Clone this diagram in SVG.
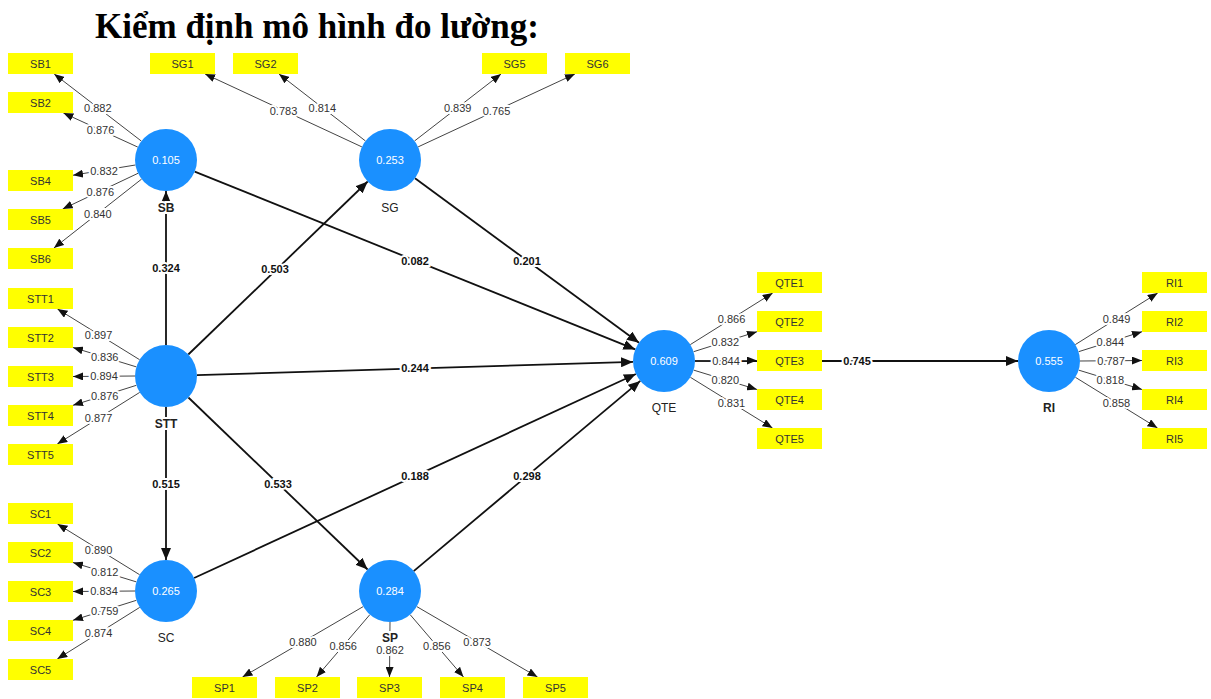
<svg xmlns="http://www.w3.org/2000/svg" width="1211" height="699" viewBox="0 0 1211 699">
  <style>
    .title { font-family: "Liberation Serif", "Times New Roman", serif; font-size: 35px; font-weight: bold; fill: #000; }
    .lv circle { fill: #1a90ff; }
    .lv .val { font-family: "Liberation Sans", Arial, sans-serif; font-size: 11px; fill: #fff; text-anchor: middle; }
    .lv .name { font-family: "Liberation Sans", Arial, sans-serif; font-size: 12px; fill: #222; text-anchor: middle; stroke: #fff; stroke-width: 4px; paint-order: stroke; }
    .lv .bold { font-weight: bold; }
    .ind rect { fill: #ffff00; }
    .ind text { font-family: "Liberation Sans", Arial, sans-serif; font-size: 11px; fill: #333; text-anchor: middle; }
    .load line { stroke: #444; stroke-width: 1; marker-end: url(#ahs); }
    .path line { stroke: #111; stroke-width: 1.8; marker-end: url(#ahl); }
    .load text, .path text { font-family: "Liberation Sans", Arial, sans-serif; font-size: 11px; text-anchor: middle; stroke: #fff; stroke-width: 4px; paint-order: stroke; }
    .load text { fill: #333; }
    .path text { fill: #111; font-weight: bold; }
  </style>
  <defs>
    <marker id="ahs" viewBox="0 0 10 10" refX="10" refY="5" markerWidth="10" markerHeight="8" markerUnits="userSpaceOnUse" orient="auto" preserveAspectRatio="none">
      <path d="M0,0 L10,5 L0,10 z" fill="#111"/>
    </marker>
    <marker id="ahl" viewBox="0 0 10 10" refX="10" refY="5" markerWidth="12" markerHeight="10" markerUnits="userSpaceOnUse" orient="auto" preserveAspectRatio="none">
      <path d="M0,0 L10,5 L0,10 z" fill="#111"/>
    </marker>
  </defs>

  <rect width="1211" height="699" fill="#fff"/>
  <text class="title" x="95" y="38">Kiểm định mô hình đo lường:</text>

  <!-- connectors: structural paths and outer loadings -->
  <g id="connectors">
    <g class="path">
      <line x1="166" y1="345" x2="166" y2="191"/>
      <line x1="188.3" y1="354.5" x2="367.7" y2="181.5"/>
      <line x1="194.7" y1="171.6" x2="635.3" y2="349.4"/>
      <line x1="415" y1="178.3" x2="639" y2="342.7"/>
      <line x1="197" y1="375.1" x2="633" y2="361.9"/>
      <line x1="166" y1="407" x2="166" y2="560"/>
      <line x1="188.4" y1="397.5" x2="367.6" y2="569.5"/>
      <line x1="194.1" y1="578" x2="635.9" y2="374"/>
      <line x1="413.7" y1="571.1" x2="640.3" y2="380.9"/>
      <line x1="695" y1="361" x2="1018" y2="361"/>
    </g>
    <g class="load">
      <!-- SB -->
      <line x1="141.4" y1="141.1" x2="54.2" y2="74"/>
      <line x1="137.8" y1="147.1" x2="63.4" y2="113"/>
      <line x1="135.4" y1="165" x2="73" y2="175.2"/>
      <line x1="138" y1="173.3" x2="62.7" y2="209"/>
      <line x1="141.6" y1="179.1" x2="53.9" y2="248"/>
      <!-- SG -->
      <line x1="361.9" y1="146.9" x2="205.1" y2="74"/>
      <line x1="365.5" y1="141" x2="279" y2="74"/>
      <line x1="414.5" y1="141" x2="501" y2="74"/>
      <line x1="418.1" y1="146.9" x2="574.9" y2="74"/>
      <!-- STT -->
      <line x1="139.6" y1="359.7" x2="57.5" y2="309"/>
      <line x1="136.4" y1="366.9" x2="73" y2="347.5"/>
      <line x1="135" y1="376" x2="73" y2="376.5"/>
      <line x1="136.4" y1="385.3" x2="73" y2="405.3"/>
      <line x1="139.7" y1="392.4" x2="57.3" y2="444"/>
      <!-- SC -->
      <line x1="139.6" y1="574.7" x2="57.5" y2="524"/>
      <line x1="136.4" y1="581.9" x2="73" y2="562.5"/>
      <line x1="135" y1="591" x2="73" y2="591.5"/>
      <line x1="136.4" y1="600.3" x2="73" y2="620.3"/>
      <line x1="139.7" y1="607.4" x2="57.3" y2="659"/>
      <!-- SP -->
      <line x1="363.2" y1="606.6" x2="242.5" y2="677"/>
      <line x1="369.9" y1="614.6" x2="316.5" y2="677"/>
      <line x1="390" y1="622" x2="389.5" y2="677"/>
      <line x1="410.1" y1="614.6" x2="463.5" y2="677"/>
      <line x1="416.8" y1="606.6" x2="537.5" y2="677"/>
      <!-- QTE -->
      <line x1="690.3" y1="344.6" x2="772.7" y2="293"/>
      <line x1="693.6" y1="351.7" x2="757" y2="331.7"/>
      <line x1="695" y1="361" x2="757" y2="360.5"/>
      <line x1="693.6" y1="370.1" x2="757" y2="389.5"/>
      <line x1="690.4" y1="377.3" x2="772.5" y2="428"/>
      <!-- RI -->
      <line x1="1075.3" y1="344.6" x2="1157.7" y2="293"/>
      <line x1="1078.6" y1="351.7" x2="1142" y2="331.7"/>
      <line x1="1080" y1="361" x2="1142" y2="360.5"/>
      <line x1="1078.6" y1="370.1" x2="1142" y2="389.5"/>
      <line x1="1075.4" y1="377.3" x2="1157.5" y2="428"/>
    </g>
  </g>

  <!-- indicators -->
  <g id="indicators" class="ind">
    <g id="SB1"><rect x="8" y="53" width="65" height="21"/><text x="40.5" y="67.5">SB1</text></g>
    <g id="SB2"><rect x="8" y="92" width="65" height="21"/><text x="40.5" y="106.5">SB2</text></g>
    <g id="SB4"><rect x="8" y="170" width="65" height="21"/><text x="40.5" y="184.5">SB4</text></g>
    <g id="SB5"><rect x="8" y="209" width="65" height="21"/><text x="40.5" y="223.5">SB5</text></g>
    <g id="SB6"><rect x="8" y="248" width="65" height="21"/><text x="40.5" y="262.5">SB6</text></g>

    <g id="SG1"><rect x="150" y="53" width="65" height="21"/><text x="182.5" y="67.5">SG1</text></g>
    <g id="SG2"><rect x="233" y="53" width="65" height="21"/><text x="265.5" y="67.5">SG2</text></g>
    <g id="SG5"><rect x="482" y="53" width="65" height="21"/><text x="514.5" y="67.5">SG5</text></g>
    <g id="SG6"><rect x="565" y="53" width="65" height="21"/><text x="597.5" y="67.5">SG6</text></g>

    <g id="STT1"><rect x="8" y="288" width="65" height="21"/><text x="40.5" y="302.5">STT1</text></g>
    <g id="STT2"><rect x="8" y="327" width="65" height="21"/><text x="40.5" y="341.5">STT2</text></g>
    <g id="STT3"><rect x="8" y="366" width="65" height="21"/><text x="40.5" y="380.5">STT3</text></g>
    <g id="STT4"><rect x="8" y="405" width="65" height="21"/><text x="40.5" y="419.5">STT4</text></g>
    <g id="STT5"><rect x="8" y="444" width="65" height="21"/><text x="40.5" y="458.5">STT5</text></g>

    <g id="SC1"><rect x="8" y="503" width="65" height="21"/><text x="40.5" y="517.5">SC1</text></g>
    <g id="SC2"><rect x="8" y="542" width="65" height="21"/><text x="40.5" y="556.5">SC2</text></g>
    <g id="SC3"><rect x="8" y="581" width="65" height="21"/><text x="40.5" y="595.5">SC3</text></g>
    <g id="SC4"><rect x="8" y="620" width="65" height="21"/><text x="40.5" y="634.5">SC4</text></g>
    <g id="SC5"><rect x="8" y="659" width="65" height="21"/><text x="40.5" y="673.5">SC5</text></g>

    <g id="SP1"><rect x="192" y="677" width="65" height="21"/><text x="224.5" y="691.5">SP1</text></g>
    <g id="SP2"><rect x="275" y="677" width="65" height="21"/><text x="307.5" y="691.5">SP2</text></g>
    <g id="SP3"><rect x="357" y="677" width="65" height="21"/><text x="389.5" y="691.5">SP3</text></g>
    <g id="SP4"><rect x="440" y="677" width="65" height="21"/><text x="472.5" y="691.5">SP4</text></g>
    <g id="SP5"><rect x="523" y="677" width="65" height="21"/><text x="555.5" y="691.5">SP5</text></g>

    <g id="QTE1"><rect x="757" y="272" width="65" height="21"/><text x="789.5" y="286.5">QTE1</text></g>
    <g id="QTE2"><rect x="757" y="311" width="65" height="21"/><text x="789.5" y="325.5">QTE2</text></g>
    <g id="QTE3"><rect x="757" y="350" width="65" height="21"/><text x="789.5" y="364.5">QTE3</text></g>
    <g id="QTE4"><rect x="757" y="389" width="65" height="21"/><text x="789.5" y="403.5">QTE4</text></g>
    <g id="QTE5"><rect x="757" y="428" width="65" height="21"/><text x="789.5" y="442.5">QTE5</text></g>

    <g id="RI1"><rect x="1142" y="272" width="65" height="21"/><text x="1174.5" y="286.5">RI1</text></g>
    <g id="RI2"><rect x="1142" y="311" width="65" height="21"/><text x="1174.5" y="325.5">RI2</text></g>
    <g id="RI3"><rect x="1142" y="350" width="65" height="21"/><text x="1174.5" y="364.5">RI3</text></g>
    <g id="RI4"><rect x="1142" y="389" width="65" height="21"/><text x="1174.5" y="403.5">RI4</text></g>
    <g id="RI5"><rect x="1142" y="428" width="65" height="21"/><text x="1174.5" y="442.5">RI5</text></g>
  </g>

  <!-- connector labels -->
  <g id="connector-labels">
    <g class="path">
      <text x="166" y="272">0.324</text>
      <text x="275" y="273">0.503</text>
      <text x="415" y="265">0.082</text>
      <text x="527" y="265">0.201</text>
      <text x="415" y="372">0.244</text>
      <text x="166" y="488">0.515</text>
      <text x="278" y="488">0.533</text>
      <text x="415" y="480">0.188</text>
      <text x="527" y="480">0.298</text>
      <text x="857" y="365">0.745</text>
    </g>
    <g class="load">
      <text x="97.8" y="111.5">0.882</text>
      <text x="100.6" y="134">0.876</text>
      <text x="104" y="174.5">0.832</text>
      <text x="100.3" y="195.5">0.876</text>
      <text x="97.8" y="217.5">0.840</text>

      <text x="283.5" y="114.5">0.783</text>
      <text x="322.3" y="111.5">0.814</text>
      <text x="457.7" y="111.5">0.839</text>
      <text x="496.5" y="114.5">0.765</text>

      <text x="98.6" y="338.5">0.897</text>
      <text x="104.7" y="361">0.836</text>
      <text x="104" y="380">0.894</text>
      <text x="104.7" y="399.5">0.876</text>
      <text x="98.5" y="422">0.877</text>

      <text x="98.6" y="553.5">0.890</text>
      <text x="104.7" y="576">0.812</text>
      <text x="104" y="595">0.834</text>
      <text x="104.7" y="614.5">0.759</text>
      <text x="98.5" y="637">0.874</text>

      <text x="302.9" y="646">0.880</text>
      <text x="343.2" y="650">0.856</text>
      <text x="390" y="653.5">0.862</text>
      <text x="436.8" y="650">0.856</text>
      <text x="477.1" y="646">0.873</text>

      <text x="731.5" y="323">0.866</text>
      <text x="725.3" y="345.5">0.832</text>
      <text x="726" y="365">0.844</text>
      <text x="725.3" y="384">0.820</text>
      <text x="731.4" y="406.5">0.831</text>

      <text x="1116.5" y="323">0.849</text>
      <text x="1110.3" y="345.5">0.844</text>
      <text x="1111" y="365">0.787</text>
      <text x="1110.3" y="384">0.818</text>
      <text x="1116.4" y="406.5">0.858</text>
    </g>
  </g>

  <!-- latent variables -->
  <g id="SB" class="lv"><circle cx="166" cy="160" r="31"/><text class="val" x="166" y="164">0.105</text><text class="name bold" x="166" y="212">SB</text></g>
  <g id="SG" class="lv"><circle cx="390" cy="160" r="31"/><text class="val" x="390" y="164">0.253</text><text class="name" x="390" y="212">SG</text></g>
  <g id="STT" class="lv"><circle cx="166" cy="376" r="31"/><text class="name bold" x="166" y="428">STT</text></g>
  <g id="SC" class="lv"><circle cx="166" cy="591" r="31"/><text class="val" x="166" y="595">0.265</text><text class="name" x="166" y="642">SC</text></g>
  <g id="SP" class="lv"><circle cx="390" cy="591" r="31"/><text class="val" x="390" y="595">0.284</text><text class="name bold" x="390" y="642">SP</text></g>
  <g id="QTE" class="lv"><circle cx="664" cy="361" r="31"/><text class="val" x="664" y="365">0.609</text><text class="name" x="664" y="412">QTE</text></g>
  <g id="RI" class="lv"><circle cx="1049" cy="361" r="31"/><text class="val" x="1049" y="365">0.555</text><text class="name bold" x="1049" y="412">RI</text></g>
</svg>
